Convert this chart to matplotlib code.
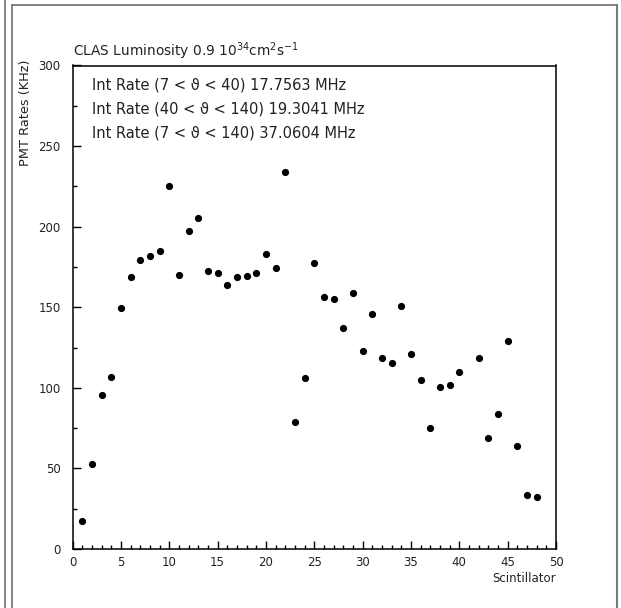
import numpy as np
import matplotlib
matplotlib.use("Agg")
import matplotlib.pyplot as plt
from matplotlib.lines import Line2D
from matplotlib.ticker import MultipleLocator

# Scintillator number and PMT rate (KHz); scintillator 41 has no point
scint = [1, 2, 3, 4, 5, 6, 7, 8, 9, 10, 11, 12, 13, 14, 15, 16, 17, 18, 19, 20,
         21, 22, 23, 24, 25, 26, 27, 28, 29, 30, 31, 32, 33, 34, 35, 36, 37, 38,
         39, 40, 42, 43, 44, 45, 46, 47, 48]
rates = [17.6, 52.5, 95.8, 106.8, 149.3, 168.7, 179.3, 182.0, 185.0, 225.3,
         170.0, 197.1, 205.6, 172.3, 171.2, 163.6, 168.7, 169.4, 171.4, 183.2,
         174.5, 234.0, 79.1, 106.0, 177.2, 156.3, 155.3, 137.3, 158.6, 123.0,
         146.0, 118.6, 115.3, 150.5, 121.1, 104.8, 75.2, 100.8, 101.7, 109.6,
         118.3, 68.7, 83.8, 128.8, 63.8, 33.5, 32.1]

title = "CLAS Luminosity 0.9 10$^{34}$cm$^{2}$s$^{-1}$"
int_rates = [
    "Int Rate (7 < \u03d1 < 40) 17.7563 MHz",
    "Int Rate (40 < \u03d1 < 140) 19.3041 MHz",
    "Int Rate (7 < \u03d1 < 140) 37.0604 MHz",
]

W, H = 621, 608
fig = plt.figure(figsize=(W / 100, H / 100), dpi=100)
ax = fig.add_axes([72.5 / W, 1 - 549 / H, (556 - 72.5) / W, (549 - 65.5) / H])

ax.plot(scint, rates, "o", color="black", markersize=5.2, markeredgewidth=0)

ax.set_xlim(0, 50)
ax.set_ylim(0, 300)
ax.xaxis.set_major_locator(MultipleLocator(5))
ax.xaxis.set_minor_locator(MultipleLocator(1))
ax.yaxis.set_major_locator(MultipleLocator(50))
ax.yaxis.set_minor_locator(MultipleLocator(25))
ax.tick_params(which="both", direction="in", top=False, right=False,
               labelsize=8.5, width=1, labelcolor="#222222")
ax.tick_params(axis="x", which="major", length=6, pad=5)
ax.tick_params(axis="x", which="minor", length=3)
ax.tick_params(axis="y", which="major", length=6, pad=8.5)
ax.tick_params(axis="y", which="minor", length=3)
for s in ax.spines.values():
    s.set_linewidth(1.1)

# axis titles, ROOT style (aligned to the axis ends)
fig.text(556 / W, 1 - 579 / H, "Scintillator", ha="right", va="center",
         fontsize=8.5, color="#222222")
fig.text(26 / W, 1 - 60 / H, "PMT Rates (KHz)", ha="center", va="top",
         rotation=90, fontsize=9.3, color="#222222")

fig.text(73 / W, 1 - 51 / H, title, ha="left", va="center", fontsize=9.9,
         color="#222222")
for i, t in enumerate(int_rates):
    fig.text(92 / W, 1 - (84.5 + 24 * i) / H, t, ha="left", va="center",
             fontsize=10.5, color="#222222")

# outer frame
gray = "#7a7a7a"
fig.add_artist(Line2D([12 / W, 617 / W], [1 - 5 / H, 1 - 5 / H], color=gray, lw=1.3,
                      transform=fig.transFigure))
fig.add_artist(Line2D([617 / W, 617 / W], [1 - 5 / H, 0], color=gray, lw=1.5,
                      transform=fig.transFigure))
fig.add_artist(Line2D([12 / W, 12 / W], [1 - 5 / H, 0], color=gray, lw=1.3,
                      transform=fig.transFigure))
fig.add_artist(Line2D([4.5 / W, 4.5 / W], [1, 0], color=gray, lw=1.3,
                      transform=fig.transFigure))

fig.savefig("out.png", dpi=100)
